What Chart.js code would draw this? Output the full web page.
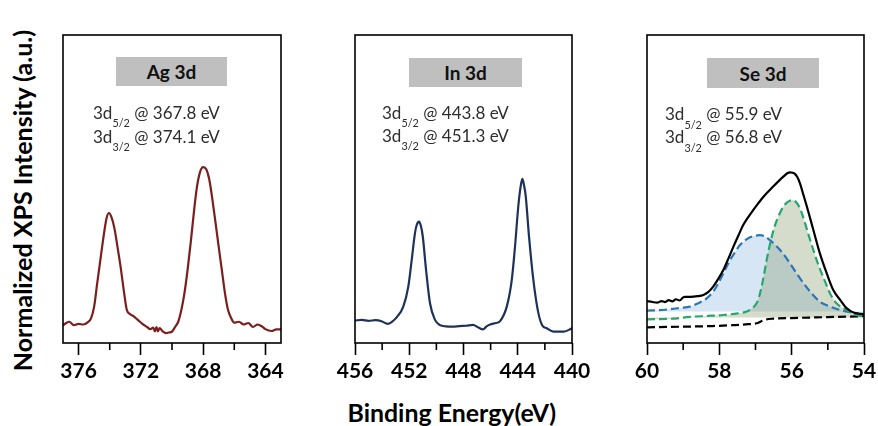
<!DOCTYPE html>
<html><head><meta charset="utf-8">
<script src="https://cdn.jsdelivr.net/npm/chart.js@4.4.0/dist/chart.umd.min.js"></script>
<style>
html,body{margin:0;padding:0;background:#fff;overflow:hidden;}
#wrap{position:relative;width:878px;height:426px;overflow:hidden;font-family:Lato,"Open Sans",sans-serif;background:#fff;}
canvas{position:absolute;}
.box{position:absolute;background:#bfbfbf;display:flex;align-items:center;justify-content:center;font-weight:700;color:#111;font-size:19px;line-height:1;}
.ann{position:absolute;white-space:nowrap;color:#2e2e2e;font-size:17px;line-height:1;}
.ann sub{font-size:0.64em;vertical-align:baseline;position:relative;top:0.75em;}
.title{position:absolute;white-space:nowrap;font-weight:700;color:#000;line-height:1;font-size:20px;}
</style></head>
<body><div id="wrap"></div>
<script>
// ---------------- DATA ----------------
const agSpectrum = [[377.0,5.8],[376.6,6.9],[376.3,5.8],[376.0,6.2],[375.7,6.0],[375.4,6.8],[375.2,8],[375.0,11.8],[374.8,19.5],[374.6,27],[374.4,34.4],[374.2,40.6],[374.05,42.2],[373.9,41],[373.7,37.3],[373.5,31.2],[373.3,24.7],[373.1,17.2],[372.9,10.7],[372.7,9.4],[372.5,8.8],[372.2,7.5],[371.9,6.2],[371.6,5.2],[371.4,4.5],[371.2,5.0],[371.1,3.8],[371.0,5.2],[370.9,3.8],[370.8,4.8],[370.6,3.8],[370.4,3.2],[370.2,3.4],[370.0,3.7],[369.8,5.2],[369.6,6.9],[369.4,10.7],[369.2,16.2],[369.0,23.7],[368.8,32.5],[368.6,42.2],[368.4,50.6],[368.2,55.5],[368.0,57.1],[367.8,56.4],[367.6,52.9],[367.4,46.4],[367.2,38.9],[367.0,31.2],[366.8,23.7],[366.6,16.2],[366.4,10.7],[366.2,8.1],[366.0,6.6],[365.7,6.9],[365.4,6.0],[365.1,6.5],[364.8,5.2],[364.5,6.0],[364.2,5.3],[364.0,4.5],[363.6,3.9],[363.3,4.4],[363.0,4.4]];

const inSpectrum = [[456,7.3],[455.5,7.5],[455,7.2],[454.5,7.4],[454,7.0],[453.6,6.2],[453.3,6.8],[452.9,8.5],[452.44,11.8],[452.07,18.3],[451.82,26.9],[451.58,35.6],[451.45,38.3],[451.28,39.4],[451.13,37.8],[451.0,34.5],[450.76,23.7],[450.47,12.9],[450.1,7.5],[449.73,5.8],[449.3,5.4],[448.8,5.3],[448.3,5.5],[447.8,5.6],[447.3,5.9],[446.9,5.0],[446.56,4.4],[446.3,5.4],[446.04,6.0],[445.6,6.5],[445.3,7.1],[444.81,11.8],[444.44,20.5],[444.2,31.4],[443.96,44.4],[443.78,51.0],[443.66,53.3],[443.55,51.5],[443.41,47.6],[443.17,34.6],[442.85,20.5],[442.48,9.7],[442.2,5.8],[441.86,4.8],[441.37,3.7],[440.6,3.7],[440,4.8]];

const seEnvelope = [[60.0,13.6],[59.85,13.3],[59.72,13.1],[59.6,13.6],[59.5,13.3],[59.4,13.9],[59.3,13.5],[59.2,14.2],[59.1,13.8],[59.0,14.8],[58.95,15.0],[58.81,15.0],[58.6,15.2],[58.44,15.6],[58.3,16.6],[58.17,18.3],[58.03,20.8],[57.89,23.7],[57.75,27.4],[57.61,31.3],[57.47,35.0],[57.34,38.3],[57.2,40.9],[57.06,43.2],[56.92,45.4],[56.78,47.5],[56.51,50.8],[56.23,54.0],[56.12,55.1],[56.05,55.4],[55.97,55.3],[55.91,54.9],[55.84,53.8],[55.77,51.8],[55.68,48.3],[55.58,44.3],[55.4,36.7],[55.22,29.1],[55.03,22.6],[54.85,17.2],[54.66,14.0],[54.52,11.8],[54.4,10.6],[54.29,9.9],[54.15,9.5],[54.0,9.3]];

const se32Fit = [[60.0,10.5],[59.5,10.8],[59.08,11.4],[58.81,11.8],[58.6,12.8],[58.35,14.5],[58.15,17.0],[57.98,20.5],[57.84,23.8],[57.7,27.0],[57.56,29.6],[57.43,31.8],[57.29,33.3],[57.15,34.3],[57.01,34.8],[56.88,35.0],[56.74,34.6],[56.6,33.4],[56.46,31.9],[56.32,30.2],[56.18,28.1],[56.05,25.9],[55.77,21.0],[55.49,16.7],[55.22,13.4],[54.94,11.8],[54.66,10.7],[54.35,9.9],[54.0,9.4]];

const se52Fit = [[60.0,7.7],[59.3,7.9],[58.81,8.5],[58.3,8.8],[57.89,9.1],[57.5,9.6],[57.24,10.2],[57.1,11.2],[56.97,12.9],[56.9,15.0],[56.83,18.3],[56.76,22.5],[56.69,27.0],[56.62,31.0],[56.55,34.5],[56.48,37.5],[56.41,39.9],[56.32,42.3],[56.23,44.3],[56.14,45.5],[56.05,46.2],[55.96,46.4],[55.89,45.9],[55.82,44.8],[55.72,42.2],[55.63,38.9],[55.52,34.6],[55.4,30.2],[55.29,26.3],[55.17,22.6],[55.05,19.2],[54.94,16.1],[54.85,14.3],[54.76,12.9],[54.62,11.6],[54.5,10.9],[54.22,9.1],[54.0,8.6]];

const seBackground = [[60.0,5.1],[59.0,5.3],[58.2,5.5],[57.61,5.8],[57.2,6.1],[56.97,6.4],[56.85,7.0],[56.72,7.6],[56.5,7.9],[56.0,8.1],[55.0,8.4],[54.0,8.7]];

const agTicks = [364,366,368,370,372,374,376];
const agLabels = [364,368,372,376];
const inTicks = [440,442,444,446,448,450,452,454,456];
const inLabels = [440,444,448,452,456];
const seTicks = [54,55,56,57,58,59,60];
const seLabels = [54,56,58,60];

const panelTitles = ['Ag 3d','In 3d','Se 3d'];
const peak52 = ['367.8','443.8','55.9'];
const peak32 = ['374.1','451.3','56.8'];
const yTitle = 'Normalized XPS Intensity (a.u.)';
const xTitle = 'Binding Energy(eV)';

// ---------------- LAYOUT ----------------
const wrap = document.getElementById('wrap');
const TOP = 35, BOTTOM = 343, PADT = 5, XAXH = 50;
const toPts = arr => arr.map(p => ({x:p[0], y:p[1]}));

const framePlugin = {
  id:'frame',
  afterDraw(chart, args, opts){
    const {ctx, chartArea:a} = chart;
    const xs = chart.scales.x;
    ctx.save();
    ctx.strokeStyle = '#000';
    ctx.lineWidth = 1.6;
    ctx.strokeRect(a.left, a.top, a.right - a.left, a.bottom - a.top);
    xs.ticks.forEach(t => {
      if (!opts.labels.includes(t.value)) {
        const x = xs.getPixelForValue(t.value);
        ctx.beginPath(); ctx.moveTo(x, a.bottom); ctx.lineTo(x, a.bottom + 7); ctx.stroke();
      }
    });
    ctx.restore();
  }
};

function makePanel(cfg){
  const w = cfg.padL + (cfg.right - cfg.left) + cfg.padR;
  const h = PADT + (BOTTOM - TOP) + XAXH;
  const c = document.createElement('canvas');
  c.width = w; c.height = h;
  c.style.left = (cfg.left - cfg.padL) + 'px';
  c.style.top = (TOP - PADT) + 'px';
  c.style.width = w + 'px'; c.style.height = h + 'px';
  wrap.appendChild(c);
  new Chart(c.getContext('2d'), {
    type:'line',
    data:{datasets:cfg.datasets},
    options:{
      responsive:false, animation:false, devicePixelRatio:1,
      layout:{padding:{left:cfg.padL, right:cfg.padR, top:PADT, bottom:0}},
      elements:{point:{radius:0}, line:{borderWidth:2.2, cubicInterpolationMode:'monotone'}},
      plugins:{legend:{display:false}, tooltip:{enabled:false}, filler:{drawTime:'beforeDatasetsDraw'}, frame:{labels:cfg.labels}},
      scales:{
        x:{type:'linear', min:cfg.min, max:cfg.max, reverse:true,
           afterBuildTicks: s => { s.ticks = cfg.ticks.map(v => ({value:v})); },
           afterFit: s => { s.height = XAXH; },
           grid:{display:true, drawOnChartArea:false, drawTicks:true, tickLength:12, tickWidth:1.6,
                 tickColor: ctx => cfg.labels.includes(ctx.tick.value) ? '#000' : 'rgba(0,0,0,0)'},
           border:{display:false},
           ticks:{autoSkip:false, maxRotation:0, padding:4, color:'#000',
                  font:{family:'Lato', weight:'bold', size:21},
                  callback: v => cfg.labels.includes(v) ? String(v) : ''}},
        y:{display:false, min:0, max:100}
      }
    },
    plugins:[framePlugin]
  });
}

makePanel({left:63, right:281, padL:25, padR:25, min:363, max:377, ticks:agTicks, labels:agLabels,
  datasets:[{data:toPts(agSpectrum), borderColor:'#7a1e1e', fill:false}]});
makePanel({left:355, right:572, padL:25, padR:25, min:440, max:456, ticks:inTicks, labels:inLabels,
  datasets:[{data:toPts(inSpectrum), borderColor:'#1e3259', fill:false}]});
makePanel({left:647, right:864, padL:25, padR:14, min:54, max:60, ticks:seTicks, labels:seLabels,
  datasets:[
    {data:toPts(seEnvelope), borderColor:'#000', fill:false},
    {data:toPts(se52Fit), borderColor:'#25a86b', borderDash:[8,4], fill:{value:8.3}, backgroundColor:'rgba(128,145,95,0.32)'},
    {data:toPts(se32Fit), borderColor:'#2e75b6', borderDash:[8,4], fill:{value:10.2}, backgroundColor:'rgba(91,155,213,0.25)'},
    {data:toPts(seBackground), borderColor:'#000', borderDash:[8,4], fill:false}
  ]});

// ---------------- TEXT ----------------
function addEl(cls, html){ const d = document.createElement('div'); d.className = cls; d.innerHTML = html; wrap.appendChild(d); return d; }
function fitWidth(el, target){ const w = el.offsetWidth; const fs = parseFloat(getComputedStyle(el).fontSize); const nf = fs * target / w; el.style.fontSize = nf + 'px'; return nf; }

const boxes = [[116,57,111,29],[409,58,113,29],[707,58,112,30]];
const annLeft = [93,382,665];
const annY1 = [113,113,114.5];
const annY2 = [137,136,137.5];
const FS = 17;
panelTitles.forEach((t,i) => {
  const b = addEl('box', t);
  b.style.left = boxes[i][0]+'px'; b.style.top = boxes[i][1]+'px';
  b.style.width = boxes[i][2]+'px'; b.style.height = boxes[i][3]+'px';
  const a1 = addEl('ann', '3d<sub>5/2</sub> @ ' + peak52[i] + ' eV');
  const a2 = addEl('ann', '3d<sub>3/2</sub> @ ' + peak32[i] + ' eV');
  a1.style.left = annLeft[i]+'px'; a2.style.left = annLeft[i]+'px';
  a1.style.top = (annY1[i] - 0.53*FS)+'px';
  a2.style.top = (annY2[i] - 0.53*FS)+'px';
});

const yt = addEl('title', yTitle);
fitWidth(yt, 342);
yt.style.left = (22 - yt.offsetWidth/2) + 'px';
yt.style.top = (200 - yt.offsetHeight/2) + 'px';
yt.style.transform = 'rotate(-90deg)';

const xt = addEl('title', xTitle);
fitWidth(xt, 209);
xt.style.left = (452 - xt.offsetWidth/2) + 'px';
xt.style.top = (412 - xt.offsetHeight/2) + 'px';
</script>
</body></html>
